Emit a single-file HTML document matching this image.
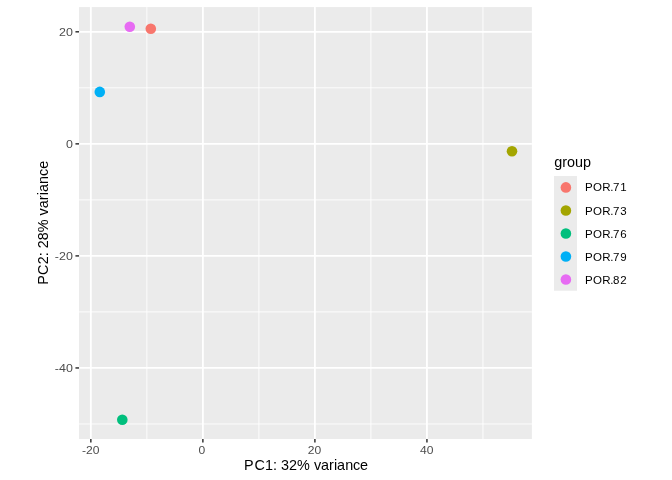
<!DOCTYPE html>
<html><head><meta charset="utf-8"><style>
html,body{margin:0;padding:0;background:#fff;width:672px;height:480px;overflow:hidden;}
.wrap{position:absolute;left:0;top:0;width:672px;height:480px;will-change:transform;}
svg{display:block;font-family:"Liberation Sans", sans-serif;}
</style></head><body>
<div class="wrap">
<svg width="672" height="480" viewBox="0 0 672 480">
<rect width="672" height="480" fill="#fff"/>
<rect x="79.05" y="7.08" width="452.85" height="431.92" fill="#EBEBEB"/>
<line x1="146.86" y1="7.08" x2="146.86" y2="439.0" stroke="#fff" stroke-width="0.9"/>
<line x1="258.88" y1="7.08" x2="258.88" y2="439.0" stroke="#fff" stroke-width="0.9"/>
<line x1="370.91" y1="7.08" x2="370.91" y2="439.0" stroke="#fff" stroke-width="0.9"/>
<line x1="482.94" y1="7.08" x2="482.94" y2="439.0" stroke="#fff" stroke-width="0.9"/>
<line x1="79.05" y1="87.82" x2="531.9" y2="87.82" stroke="#fff" stroke-width="0.9"/>
<line x1="79.05" y1="199.88" x2="531.9" y2="199.88" stroke="#fff" stroke-width="0.9"/>
<line x1="79.05" y1="311.92" x2="531.9" y2="311.92" stroke="#fff" stroke-width="0.9"/>
<line x1="79.05" y1="423.98" x2="531.9" y2="423.98" stroke="#fff" stroke-width="0.9"/>
<line x1="90.84" y1="7.08" x2="90.84" y2="439.0" stroke="#fff" stroke-width="1.8"/>
<line x1="202.87" y1="7.08" x2="202.87" y2="439.0" stroke="#fff" stroke-width="1.8"/>
<line x1="314.90" y1="7.08" x2="314.90" y2="439.0" stroke="#fff" stroke-width="1.8"/>
<line x1="426.93" y1="7.08" x2="426.93" y2="439.0" stroke="#fff" stroke-width="1.8"/>
<line x1="79.05" y1="31.80" x2="531.9" y2="31.80" stroke="#fff" stroke-width="1.8"/>
<line x1="79.05" y1="143.85" x2="531.9" y2="143.85" stroke="#fff" stroke-width="1.8"/>
<line x1="79.05" y1="255.90" x2="531.9" y2="255.90" stroke="#fff" stroke-width="1.8"/>
<line x1="79.05" y1="367.95" x2="531.9" y2="367.95" stroke="#fff" stroke-width="1.8"/>
<line x1="90.84" y1="439.0" x2="90.84" y2="442.6" stroke="#333" stroke-width="1.5"/>
<text transform="translate(90.64,454) scale(1.05,1)" font-size="11.52" fill="#4D4D4D" text-anchor="middle">-20</text>
<line x1="202.87" y1="439.0" x2="202.87" y2="442.6" stroke="#333" stroke-width="1.5"/>
<text transform="translate(201.92,454) scale(1.05,1)" font-size="11.52" fill="#4D4D4D" text-anchor="middle">0</text>
<line x1="314.90" y1="439.0" x2="314.90" y2="442.6" stroke="#333" stroke-width="1.5"/>
<text transform="translate(314.52,454) scale(1.05,1)" font-size="11.52" fill="#4D4D4D" text-anchor="middle">20</text>
<line x1="426.93" y1="439.0" x2="426.93" y2="442.6" stroke="#333" stroke-width="1.5"/>
<text transform="translate(426.63,454) scale(1.05,1)" font-size="11.52" fill="#4D4D4D" text-anchor="middle">40</text>
<line x1="75.45" y1="31.80" x2="79.05" y2="31.80" stroke="#333" stroke-width="1.5"/>
<text transform="translate(72.8,35.90) scale(1.08,1)" font-size="11.52" fill="#4D4D4D" text-anchor="end">20</text>
<line x1="75.45" y1="143.85" x2="79.05" y2="143.85" stroke="#333" stroke-width="1.5"/>
<text transform="translate(72.8,147.95) scale(1.08,1)" font-size="11.52" fill="#4D4D4D" text-anchor="end">0</text>
<line x1="75.45" y1="255.90" x2="79.05" y2="255.90" stroke="#333" stroke-width="1.5"/>
<text transform="translate(72.8,260.00) scale(1.08,1)" font-size="11.52" fill="#4D4D4D" text-anchor="end">-20</text>
<line x1="75.45" y1="367.95" x2="79.05" y2="367.95" stroke="#333" stroke-width="1.5"/>
<text transform="translate(72.8,372.05) scale(1.08,1)" font-size="11.52" fill="#4D4D4D" text-anchor="end">-40</text>
<circle cx="150.8" cy="28.8" r="5.3" fill="#F8766D"/>
<circle cx="512" cy="151.25" r="5.3" fill="#A3A500"/>
<circle cx="122.3" cy="419.7" r="5.3" fill="#00BF7D"/>
<circle cx="99.8" cy="91.9" r="5.3" fill="#00B0F6"/>
<circle cx="129.8" cy="26.8" r="5.3" fill="#E76BF3"/>
<text x="243.92 254.57 264.97 272.93 276.98 280.98 288.99 297.00 309.95 314.10 321.10 329.11 333.91 337.01 345.32 353.12 360.07" y="469.6" font-size="14.4" fill="#000">PC1: 32% variance</text>
<text transform="translate(48.1,222.2) rotate(-90)" x="-62.63 -52.78 -42.13 -34.12 -30.12 -26.07 -18.01 -10.00 2.80 6.80 14.05 22.06 26.91 30.11 38.12 46.17 53.37" y="0" font-size="14.4" fill="#000">PC2: 28% variance</text>
<text x="554.2" y="167" font-size="14.4" fill="#000">group</text>
<rect x="554.0" y="176.0" width="22.96" height="114.75" fill="#EBEBEB"/>
<circle cx="565.9" cy="187.42" r="5.3" fill="#F8766D"/>
<text x="585.00 593.08 602.34 610.16 613.06 620.17" y="191.46" font-size="11.52" fill="#000">POR.71</text>
<circle cx="565.9" cy="210.45" r="5.3" fill="#A3A500"/>
<text x="585.00 593.08 602.34 610.16 613.06 620.17" y="215.46" font-size="11.52" fill="#000">POR.73</text>
<circle cx="565.9" cy="233.48" r="5.3" fill="#00BF7D"/>
<text x="585.00 593.08 602.34 610.16 613.06 620.17" y="238.46" font-size="11.52" fill="#000">POR.76</text>
<circle cx="565.9" cy="256.51" r="5.3" fill="#00B0F6"/>
<text x="585.00 593.08 602.34 610.16 613.06 620.17" y="261.46" font-size="11.52" fill="#000">POR.79</text>
<circle cx="565.9" cy="279.54" r="5.3" fill="#E76BF3"/>
<text x="585.00 593.08 602.34 610.16 613.06 620.17" y="284.46" font-size="11.52" fill="#000">POR.82</text>
</svg></div></body></html>
